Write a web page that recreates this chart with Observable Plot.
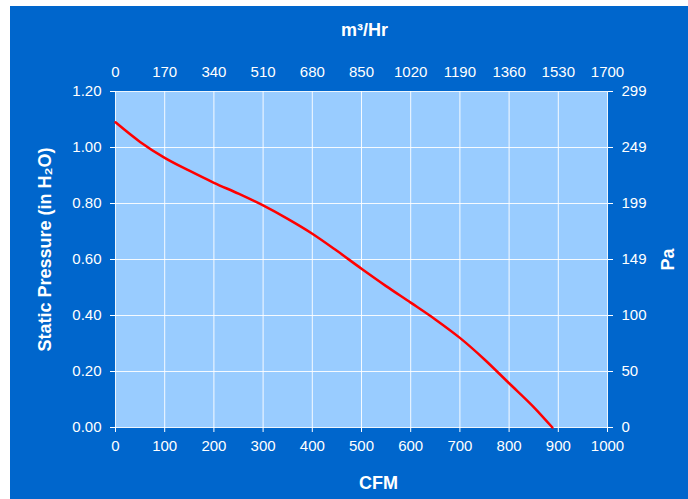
<!DOCTYPE html>
<html>
<head>
<meta charset="utf-8">
<script src="https://cdn.jsdelivr.net/npm/d3@7"></script>
<script src="https://cdn.jsdelivr.net/npm/@observablehq/plot@0.6"></script>
<style>
  html, body { margin: 0; padding: 0; background: #ffffff; }
  #wrap { position: absolute; left: 10px; top: 6px; width: 678px; height: 493px; background: #0066CC; }
  #wrap svg { display: block; }
</style>
</head>
<body>
<div id="wrap"></div>
<script>
// Fan curve: airflow (CFM) vs static pressure (in H2O)
const cfm    = [0, 50, 100, 150, 200, 250, 300, 350, 400, 450, 500, 550, 600, 650, 700, 750, 800, 850, 888];
const inH2O  = [1.09, 1.02, 0.963, 0.917, 0.874, 0.835, 0.793, 0.745, 0.692, 0.631, 0.567, 0.505, 0.446, 0.386, 0.320, 0.243, 0.158, 0.073, 0];

const cfmTicks   = [0, 100, 200, 300, 400, 500, 600, 700, 800, 900, 1000];
const m3hrLabels = [0, 170, 340, 510, 680, 850, 1020, 1190, 1360, 1530, 1700];
const m3hrPerCfm = 1.7;
const inTicks    = [0, 0.2, 0.4, 0.6, 0.8, 1.0, 1.2];
const inLabels   = ["0.00", "0.20", "0.40", "0.60", "0.80", "1.00", "1.20"];
const paLabels   = ["0", "50", "100", "149", "199", "249", "299"];

const data = cfm.map((c, i) => ({cfm: c, p: inH2O[i]}));
const font = "'Liberation Sans', Arial, sans-serif";

const chart = Plot.plot({
  width: 678,
  height: 493,
  marginLeft: 105,
  marginRight: 81,
  marginTop: 85,
  marginBottom: 72,
  style: {background: "transparent", color: "white", fontFamily: font, fontSize: "15px"},
  x: {domain: [0, 1000], axis: null},
  y: {domain: [0, 1.2], axis: null},
  marks: [
    Plot.frame({fill: "#99CCFF", stroke: null}),
    Plot.gridX(cfmTicks, {stroke: "white", strokeOpacity: 0.9, strokeWidth: 1}),
    Plot.gridY(inTicks, {stroke: "white", strokeOpacity: 0.9, strokeWidth: 1}),
    Plot.axisX(cfmTicks, {anchor: "bottom", tickSize: 5, tickPadding: 8, fontSize: 15, stroke: "white", fill: "white", label: null, tickFormat: d => String(d)}),
    Plot.axisX(m3hrLabels.map(v => v / m3hrPerCfm), {anchor: "top", tickSize: 0, tickPadding: 15, fontSize: 15, fill: "white", label: null,
      tickFormat: d => String(m3hrLabels[Math.round(d / 100)])}),
    Plot.axisY(inTicks, {anchor: "left", tickSize: 5, tickPadding: 9, fontSize: 15, stroke: "white", fill: "white", label: null,
      tickFormat: d => inLabels[Math.round(d / 0.2)]}),
    Plot.axisY(inTicks, {anchor: "right", tickSize: 5, tickPadding: 9, fontSize: 15, stroke: "white", fill: "white", label: null,
      tickFormat: d => paLabels[Math.round(d / 0.2)]}),
    Plot.line(data, {x: "cfm", y: "p", stroke: "#FF0000", strokeWidth: 2.5, curve: "monotone-x"}),
    Plot.text(["CFM"], {frameAnchor: "bottom", dy: 56, dx: 17, fontSize: 18, fontWeight: "bold", fill: "white", lineAnchor: "middle", textAnchor: "middle"}),
    Plot.text(["m³/Hr"], {frameAnchor: "top", dy: -61, dx: 3, fontSize: 18, fontWeight: "bold", fill: "white", lineAnchor: "middle", textAnchor: "middle"}),
    Plot.text(["Static Pressure (in H₂O)"], {frameAnchor: "left", dx: -70, dy: -10, rotate: -90, fontSize: 18, fontWeight: "bold", fill: "white", lineAnchor: "middle", textAnchor: "middle"}),
    Plot.text(["Pa"], {frameAnchor: "right", dx: 61, dy: 0, rotate: -90, fontSize: 18, fontWeight: "bold", fill: "white", lineAnchor: "middle", textAnchor: "middle"})
  ]
});
document.getElementById("wrap").appendChild(chart);
</script>
</body>
</html>
